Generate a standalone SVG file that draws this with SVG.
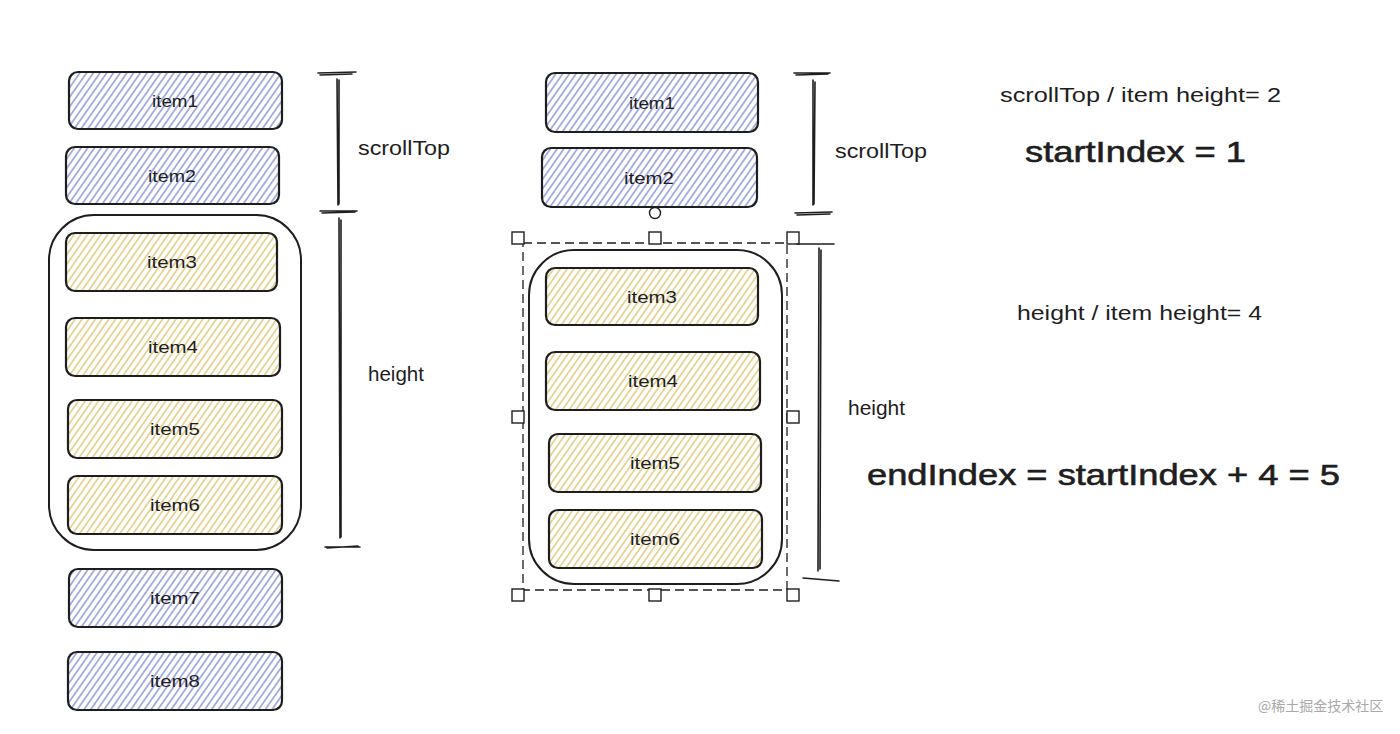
<svg xmlns="http://www.w3.org/2000/svg" width="1400" height="734" viewBox="0 0 1400 734">
<defs>
<pattern id="hBlue" patternUnits="userSpaceOnUse" width="5.5" height="6" patternTransform="rotate(35)">
<rect width="5.5" height="6" fill="#ffffff"/>
<line x1="2.75" y1="0" x2="2.75" y2="6" stroke="#7f8bd4" stroke-width="1.3"/>
</pattern>
<pattern id="hYellow" patternUnits="userSpaceOnUse" width="5.5" height="6" patternTransform="rotate(35)">
<rect width="5.5" height="6" fill="#ffffff"/>
<line x1="2.75" y1="0" x2="2.75" y2="6" stroke="#dcc36a" stroke-width="1.3"/>
</pattern>
<style>
.blue{fill:url(#hBlue);stroke:#1e1e1e;stroke-width:2.2}
.yellow{fill:url(#hYellow);stroke:#1e1e1e;stroke-width:2.2}
.cont{fill:none;stroke:#1e1e1e;stroke-width:2}
.lbl{font-family:"Liberation Sans",Arial,sans-serif;font-size:17px;fill:#1e1e1e;text-anchor:middle;dominant-baseline:central}
.note{font-family:"Liberation Sans",Arial,sans-serif;font-size:20px;fill:#1e1e1e;dominant-baseline:central}
.big{font-family:"Liberation Sans",Arial,sans-serif;font-size:30px;fill:#1e1e1e;stroke:#1e1e1e;stroke-width:0.6;dominant-baseline:central}
.br{stroke:#1e1e1e;stroke-width:1.6;fill:none;stroke-linecap:round}
.sel{fill:none;stroke:#1e1e1e;stroke-width:1.3;stroke-dasharray:9 5}
.hdl{fill:#fff;stroke:#1e1e1e;stroke-width:1.4}
.wm{font-family:"Noto Sans CJK SC","Liberation Sans",sans-serif;font-size:14px;fill:#a9a9a9}
</style>
</defs>
<rect width="1400" height="734" fill="#ffffff"/>

<!-- Left column -->
<g id="left-container"><rect class="cont" x="49" y="215" width="252" height="335" rx="45"/></g>
<g id="left-item1"><rect class="blue" x="69" y="72" width="213" height="57" rx="9"/><text class="lbl" x="175" y="101" textLength="46" lengthAdjust="spacingAndGlyphs">item1</text></g>
<g id="left-item2"><rect class="blue" x="66" y="147" width="213" height="57" rx="9"/><text class="lbl" x="172" y="176" textLength="48" lengthAdjust="spacingAndGlyphs">item2</text></g>
<g id="left-item3"><rect class="yellow" x="66" y="233" width="211" height="58" rx="9"/><text class="lbl" x="172" y="262" textLength="50" lengthAdjust="spacingAndGlyphs">item3</text></g>
<g id="left-item4"><rect class="yellow" x="66" y="318" width="214" height="58" rx="9"/><text class="lbl" x="173" y="347" textLength="50" lengthAdjust="spacingAndGlyphs">item4</text></g>
<g id="left-item5"><rect class="yellow" x="68" y="400" width="214" height="58" rx="9"/><text class="lbl" x="175" y="429" textLength="50" lengthAdjust="spacingAndGlyphs">item5</text></g>
<g id="left-item6"><rect class="yellow" x="68" y="476" width="214" height="58" rx="9"/><text class="lbl" x="175" y="505" textLength="50" lengthAdjust="spacingAndGlyphs">item6</text></g>
<g id="left-item7"><rect class="blue" x="69" y="569" width="213" height="58" rx="9"/><text class="lbl" x="175" y="598" textLength="50" lengthAdjust="spacingAndGlyphs">item7</text></g>
<g id="left-item8"><rect class="blue" x="68" y="652" width="214" height="58" rx="9"/><text class="lbl" x="175" y="681" textLength="50" lengthAdjust="spacingAndGlyphs">item8</text></g>

<!-- Middle column -->
<g id="mid-container"><rect class="cont" x="529" y="250" width="253" height="334" rx="45"/></g>
<g id="mid-item1"><rect class="blue" x="546" y="73" width="212" height="59" rx="9"/><text class="lbl" x="652" y="103" textLength="46" lengthAdjust="spacingAndGlyphs">item1</text></g>
<g id="mid-item2"><rect class="blue" x="542" y="148" width="215" height="59" rx="9"/><text class="lbl" x="649" y="178" textLength="50" lengthAdjust="spacingAndGlyphs">item2</text></g>
<g id="mid-item3"><rect class="yellow" x="546" y="268" width="212" height="57" rx="9"/><text class="lbl" x="652" y="297" textLength="50" lengthAdjust="spacingAndGlyphs">item3</text></g>
<g id="mid-item4"><rect class="yellow" x="546" y="352" width="214" height="58" rx="9"/><text class="lbl" x="653" y="381" textLength="50" lengthAdjust="spacingAndGlyphs">item4</text></g>
<g id="mid-item5"><rect class="yellow" x="549" y="434" width="212" height="58" rx="9"/><text class="lbl" x="655" y="463" textLength="50" lengthAdjust="spacingAndGlyphs">item5</text></g>
<g id="mid-item6"><rect class="yellow" x="549" y="510" width="213" height="58" rx="9"/><text class="lbl" x="655" y="539" textLength="50" lengthAdjust="spacingAndGlyphs">item6</text></g>

<!-- Selection box -->
<g id="selection">
<circle class="hdl" cx="655" cy="213" r="5.5"/>
<rect class="sel" x="523" y="243" width="264" height="347"/>
<rect class="hdl" x="512" y="232" width="12" height="12"/>
<rect class="hdl" x="649" y="232" width="12" height="12"/>
<rect class="hdl" x="787" y="232" width="12" height="12"/>
<rect class="hdl" x="512" y="411" width="12" height="12"/>
<rect class="hdl" x="787" y="411" width="12" height="12"/>
<rect class="hdl" x="512" y="589" width="12" height="12"/>
<rect class="hdl" x="649" y="589" width="12" height="12"/>
<rect class="hdl" x="787" y="589" width="12" height="12"/>
</g>

<!-- Dimension brackets -->
<g id="connectors">
<path class="br" d="M318 73 L356 72 M320 75 L352 74"/>
<path class="br" d="M337 79 L338 205 M339 80 L339 204"/>
<path class="br" d="M320 211 L357 211 M322 213 L355 212"/>
<path class="br" d="M339 218 L340 538 M341 220 L341 537"/>
<path class="br" d="M325 547 L360 547 M327 548 L358 546"/>

<path class="br" d="M794 73 L830 73 M796 75 L828 74"/>
<path class="br" d="M813 80 L813 205 M815 82 L814 204"/>
<path class="br" d="M795 213 L832 212 M797 215 L830 214"/>
<path class="br" d="M797 244 L834 244"/>
<path class="br" d="M819 248 L818 571 M821 250 L820 569"/>
<path class="br" d="M803 578 L839 581"/>
</g>

<!-- Labels -->
<g id="labels">
<text class="note" x="358" y="148" textLength="92" lengthAdjust="spacingAndGlyphs">scrollTop</text>
<text class="note" x="368" y="374" textLength="56" lengthAdjust="spacingAndGlyphs">height</text>
<text class="note" x="835" y="151" textLength="92" lengthAdjust="spacingAndGlyphs">scrollTop</text>
<text class="note" x="848" y="408" textLength="57" lengthAdjust="spacingAndGlyphs">height</text>
<text class="note" x="1000" y="95" textLength="281" lengthAdjust="spacingAndGlyphs">scrollTop / item height= 2</text>
<text class="big" x="1025" y="151" textLength="221" lengthAdjust="spacingAndGlyphs">startIndex = 1</text>
<text class="note" x="1017" y="313" textLength="245" lengthAdjust="spacingAndGlyphs">height / item height= 4</text>
<text class="big" x="867" y="474" textLength="473" lengthAdjust="spacingAndGlyphs">endIndex = startIndex + 4 = 5</text>
<text class="wm" x="1258" y="711">@稀土掘金技术社区</text>
</g>
</svg>
